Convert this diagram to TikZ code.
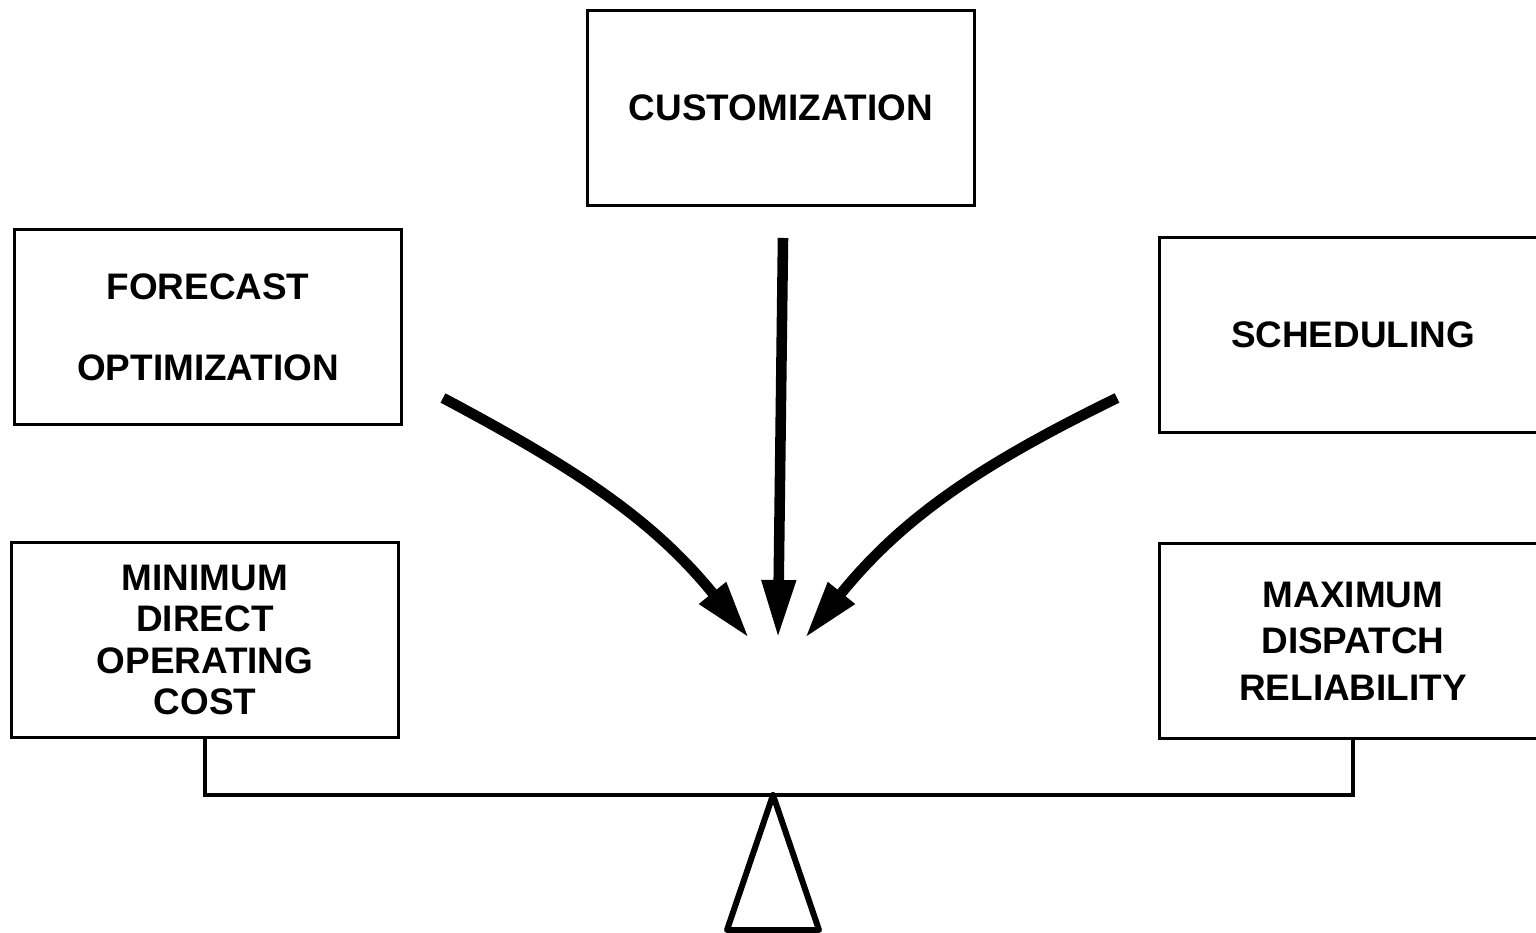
\documentclass[tikz,border=0pt]{standalone}
\usepackage{fontspec}
\setmainfont{Liberation Sans}
\usetikzlibrary{arrows.meta}

\begin{document}
\begin{tikzpicture}
[
>={Triangle[length=0.58cm,width=0.32cm]},
box/.style = {draw, line width=0.9pt, minimum width=3.87cm, minimum height=1.95cm, align=center, font=\fontsize{10.5}{11.7}\selectfont\bfseries},
push/.style = {->, line width=3pt},
]
\useasboundingbox (0,0) rectangle (15.36,9.33);
\clip (0,0) rectangle (15.36,9.33);

\node (CUST) at (7.81,8.25) [box] {CUSTOMIZATION};
\node (FORE) at (2.08,6.06) [box, font=\fontsize{10.5}{23}\selectfont\bfseries] {FORECAST\\OPTIMIZATION};
\node (SCHED) at (13.53,5.98) [box] {SCHEDULING};
\node (MINC) at (2.05,2.93) [box] {MINIMUM\\DIRECT\\OPERATING\\COST};
\node (MAXR) at (13.53,2.92) [box, font=\fontsize{10.5}{13.2}\selectfont\bfseries] {MAXIMUM\\DISPATCH\\RELIABILITY};

\coordinate (pivot) at (7.73,1.38);

% beam and fulcrum
\draw[line width=1.1pt] (MINC.south) |- (pivot) -| (MAXR.south);
\draw[line width=1.7pt, line join=round] (pivot) -- ++(-0.46,-1.35) -- ++(0.92,0) -- cycle;

% arrows
\coordinate (FS) at (4.43,5.35);
\coordinate (FT) at (7.49,2.95);
\coordinate (CS) at (7.83,6.95);
\coordinate (CT) at (7.78,2.95);
\coordinate (SS) at (11.17,5.35);
\coordinate (ST) at (8.05,2.95);

\draw[push] (FS) to[out=-28, in=129] (FT);
\draw[push] (CS) -- (CT);
\draw[push] (SS) to[out=206, in=51] (ST);
\end{tikzpicture}
\end{document}
